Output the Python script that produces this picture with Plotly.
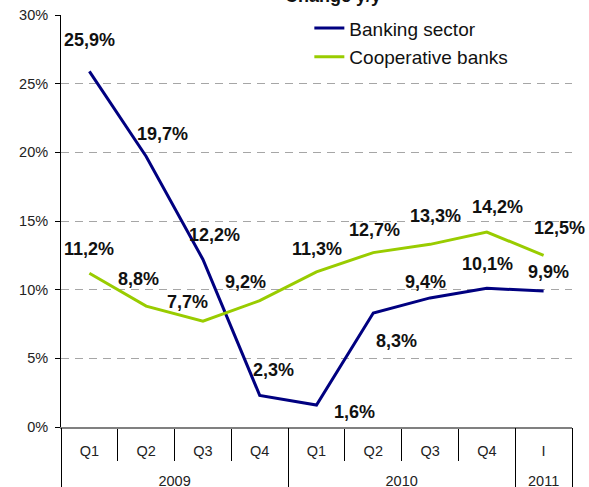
import plotly.graph_objects as go

# Data
years = ["2009", "2009", "2009", "2009", "2010", "2010", "2010", "2010", "2011"]
quarters = ["Q1", "Q2", "Q3", "Q4", "Q1", "Q2", "Q3", "Q4", "I"]
banking_sector = [25.9, 19.7, 12.2, 2.3, 1.6, 8.3, 9.4, 10.1, 9.9]
cooperative_banks = [11.2, 8.8, 7.7, 9.2, 11.3, 12.7, 13.3, 14.2, 12.5]

# label offsets in pixels (x, y) relative to each point
banking_offsets = [(0, 31), (16, 22), (12, 24), (14, 25), (38, -7), (23, -28), (-5, 16), (1, 24), (5, 19)]
coop_offsets = [(0, 24), (-8, 27), (-15, 19), (-14, 19), (0, 23), (1, 23), (5, 28), (11, 25), (16, 27)]

NAVY = "#000080"
GREEN = "#99CC00"
FONT = "Liberation Sans, Arial, sans-serif"

periods = [f"{y} {q}" for y, q in zip(years, quarters)]
n = len(periods)

# year groups: centre of each group and the boundaries between groups
year_names = list(dict.fromkeys(years))
year_centers = [sum(i for i, y in enumerate(years) if y == name) / years.count(name) for name in year_names]
year_bounds = [-0.5] + [i + 0.5 for i in range(n - 1) if years[i] != years[i + 1]] + [n - 0.5]

fig = go.Figure()
fig.add_trace(go.Scatter(x=periods, y=banking_sector, mode="lines", name="Banking sector",
                         line=dict(color=NAVY, width=3), legendgroup="a"))
fig.add_trace(go.Scatter(x=periods, y=cooperative_banks, mode="lines", name="Cooperative banks",
                         line=dict(color=GREEN, width=3), legendgroup="b"))
# invisible trace to carry the year axis
fig.add_trace(go.Scatter(x=year_centers, y=[None] * len(year_centers), xaxis="x2",
                         showlegend=False, hoverinfo="skip"))

def add_labels(values, offsets):
    for i, (v, (dx, dy)) in enumerate(zip(values, offsets)):
        fig.add_annotation(x=i, y=v, xref="x", yref="y", text=f"{v:.1f}%".replace(".", ","),
                           showarrow=False, xshift=dx, yshift=dy,
                           font=dict(family=FONT, size=18, color="#111111", weight="bold"))

add_labels(banking_sector, banking_offsets)
add_labels(cooperative_banks, coop_offsets)

# title, partly cut off at the top like the original
fig.add_annotation(text="<b>Change y/y</b>", xref="paper", yref="paper", x=0.434, y=1.046,
                   xanchor="left", yanchor="middle", showarrow=False,
                   font=dict(family=FONT, size=18, color="#111111"))

# white box behind the legend hiding the top gridline
fig.add_shape(type="rect", xref="paper", yref="paper", x0=0.434, x1=0.912, y0=0.97, y1=1.02,
              fillcolor="white", line=dict(width=0), layer="between")

fig.update_layout(
    width=589, height=487,
    margin=dict(l=61, r=17, t=15, b=60, autoexpand=False),
    paper_bgcolor="white", plot_bgcolor="white",
    font=dict(family=FONT, size=14.5, color="#222222"),
    legend=dict(x=0.486, y=1.014, xanchor="left", yanchor="top", bgcolor="rgba(0,0,0,0)",
                font=dict(size=19, color="#111111"), tracegroupgap=1),
    xaxis=dict(type="category", range=[-0.5, n - 0.5], tickvals=periods, ticktext=quarters,
               showline=True, linecolor="#808080", linewidth=1.5,
               ticks="outside", tickson="boundaries", ticklen=32, tickcolor="black",
               showgrid=False, automargin=False, ticklabelstandoff=10,
               tickfont=dict(size=14.5, color="#222222")),
    xaxis2=dict(overlaying="x", anchor="y", side="bottom", range=[-0.5, n - 0.5],
                tickvals=year_centers, ticktext=year_names, ticks="", showline=False,
                showgrid=False, zeroline=False, automargin=False, ticklabelstandoff=43,
                minor=dict(tickvals=year_bounds, ticks="outside", ticklen=62, tickcolor="black"),
                tickfont=dict(size=14.5, color="#222222")),
    yaxis=dict(range=[0, 30], dtick=5, ticksuffix="%", showline=True, linecolor="black",
               ticks="outside", ticklen=5, tickcolor="black", zeroline=False, automargin=False,
               showgrid=True, gridcolor="#A6A6A6", griddash="8px,6px", gridwidth=1,
               ticklabelstandoff=4, tickfont=dict(size=14.5, color="#222222")),
)

fig.write_html("out.html", config={"displayModeBar": False},
               post_script="document.body.style.margin = '0';")
